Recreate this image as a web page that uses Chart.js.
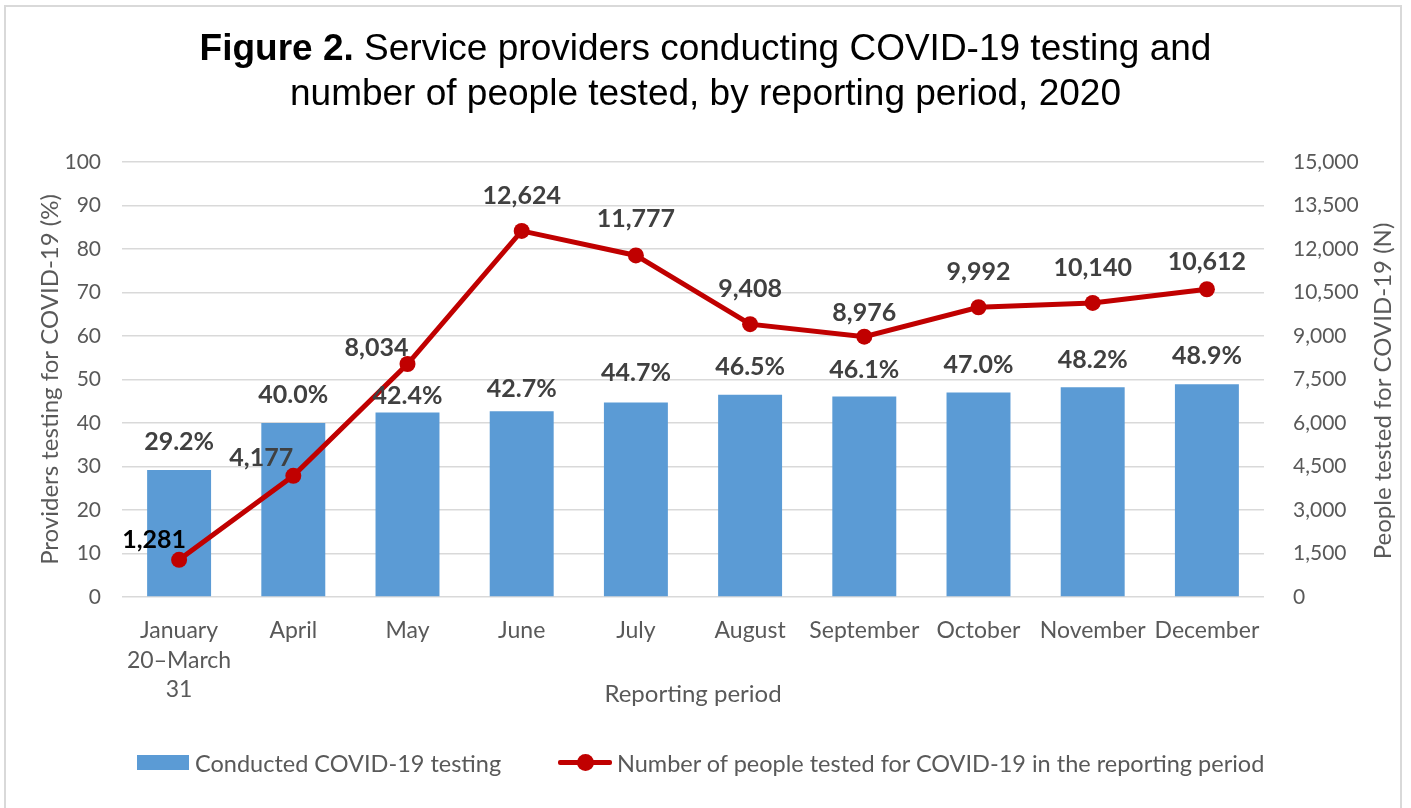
<!DOCTYPE html>
<html>
<head>
<meta charset="utf-8">
<script src="https://cdn.jsdelivr.net/npm/chart.js@4.4.1/dist/chart.umd.min.js"></script>
<style>
  html, body { margin: 0; padding: 0; background: #fff; }
  #wrap { position: relative; width: 1411px; height: 808px; overflow: hidden; }
  #frame { position: absolute; left: 4px; top: 5px; width: 1398px; height: 810px; border: 2px solid #d9d9d9; box-sizing: border-box; }
  #chart { position: absolute; left: 0; top: 0; }
  #title { position: absolute; left: 0; top: 25px; width: 1411px; text-align: center;
    font-family: "Liberation Sans", Arial, sans-serif; font-size: 37px; line-height: 45px; color: #000; }
  #legend { position: absolute; top: 748px; left: 0; width: 1411px; height: 30px;
    font-family: Lato, sans-serif; font-size: 23.5px; color: #595959; }
  .item { position: absolute; top: 0; height: 30px; line-height: 30px; white-space: nowrap; }
  .box { position: absolute; left: 0; top: 7px; width: 52px; height: 15px; background: #5b9bd5; }
  .ln { position: absolute; left: 0; top: 12px; width: 54px; height: 5px; background: #c00000; border-radius: 2px; }
  .dot { position: absolute; left: 19px; top: 6px; width: 17px; height: 17px; border-radius: 50%; background: #c00000; }
</style>
</head>
<body>
<div id="wrap">
  <div id="frame"></div>
  <canvas id="chart" width="1411" height="808"></canvas>
  <div id="title"><b>Figure 2.</b> Service providers conducting COVID-19 testing and<br>number of people tested, by reporting period, 2020</div>
  <div id="legend">
    <div class="item" style="left:137px;"><span class="box"></span><span style="padding-left:58px;">Conducted COVID-19 testing</span></div>
    <div class="item" style="left:558px;"><span class="ln"></span><span class="dot"></span><span style="padding-left:59px;">Number of people tested for COVID-19 in the reporting period</span></div>
  </div>
</div>
<script>
const periods = [["January", "20–March", "31"], "April", "May", "June", "July", "August", "September", "October", "November", "December"];
const pctTesting = [29.2, 40.0, 42.4, 42.7, 44.7, 46.5, 46.1, 47.0, 48.2, 48.9];
const peopleTested = [1281, 4177, 8034, 12624, 11777, 9408, 8976, 9992, 10140, 10612];

// label nudges
const barLabelDy = [-28, -28, -17, -22, -30, -28, -27, -28, -27, -28];
const lineLabelDx = [-25, -32, -31, 0, 0, 0, 0, 0, 0, 0];
const lineLabelDy = [-20, -18, -16, -35, -37, -35, -24, -35, -35, -27];

const fmt = (n) => n.toString().replace(/\B(?=(\d{3})+(?!\d))/g, ",");

// draws the value labels on top of everything
const valueLabels = {
  id: "valueLabels",
  afterDatasetsDraw(chart) {
    const ctx = chart.ctx;
    ctx.save();
    ctx.font = "bold 25px Lato";
    ctx.textAlign = "center";
    ctx.textBaseline = "middle";
    chart.getDatasetMeta(1).data.forEach((bar, i) => {
      ctx.fillStyle = "#404040";
      ctx.fillText(pctTesting[i].toFixed(1) + "%", bar.x, bar.y + barLabelDy[i]);
    });
    chart.getDatasetMeta(0).data.forEach((pt, i) => {
      ctx.fillStyle = i === 0 ? "#000000" : "#404040";
      ctx.fillText(fmt(peopleTested[i]), pt.x + lineLabelDx[i], pt.y + lineLabelDy[i]);
    });
    ctx.restore();
  },
  afterDraw(chart) {
    // right axis title reads bottom-to-top like the left one
    const ctx = chart.ctx;
    ctx.save();
    ctx.translate(1383, 391);
    ctx.rotate(-Math.PI / 2);
    ctx.font = "24px Lato";
    ctx.fillStyle = "#595959";
    ctx.textAlign = "center";
    ctx.textBaseline = "middle";
    ctx.fillText("People tested for COVID-19 (N)", 0, 0);
    ctx.restore();
  }
};

const tickFont = { family: "Lato", size: 21, lineHeight: 1.4 };
const catFont = { family: "Lato", size: 23, lineHeight: 29.5 / 23 };
const titleFont = { family: "Lato", size: 24 };

new Chart(document.getElementById("chart").getContext("2d"), {
  type: "bar",
  data: {
    labels: periods,
    datasets: [
      {
        type: "line",
        label: "Number of people tested for COVID-19 in the reporting period",
        data: peopleTested,
        yAxisID: "yRight",
        borderColor: "#c00000",
        backgroundColor: "#c00000",
        borderWidth: 5,
        pointRadius: 8,
        pointBackgroundColor: "#c00000",
        pointBorderWidth: 0,
        tension: 0,
        order: 0
      },
      {
        label: "Conducted COVID-19 testing",
        data: pctTesting,
        yAxisID: "y",
        backgroundColor: "#5b9bd5",
        categoryPercentage: 1,
        barPercentage: 0.56,
        order: 1
      }
    ]
  },
  options: {
    responsive: false,
    animation: false,
    layout: { padding: { top: 162, left: 0, right: 0, bottom: 96 } },
    plugins: {
      legend: { display: false },
      title: { display: false },
      tooltip: { enabled: false }
    },
    scales: {
      x: {
        grid: { display: false },
        border: { display: false },
        ticks: { color: "#595959", font: catFont, padding: 11, maxRotation: 0, autoSkip: false },
        title: { display: true, text: "Reporting period", color: "#595959", font: titleFont, padding: { top: 4, bottom: 3 } },
        afterFit(scale) { scale.height = 115; }
      },
      y: {
        position: "left",
        min: 0,
        max: 100,
        ticks: { stepSize: 10, color: "#595959", font: tickFont, padding: 21 },
        grid: { color: "#d9d9d9", lineWidth: 1.5, drawTicks: false },
        border: { display: false },
        title: { display: true, text: "Providers testing for COVID-19 (%)", color: "#595959", font: titleFont, padding: { top: 36, bottom: 0 } },
        afterFit(scale) { scale.width = 122; }
      },
      yRight: {
        position: "right",
        min: 0,
        max: 15000,
        ticks: { stepSize: 1500, color: "#595959", font: tickFont, padding: 29, callback: (v) => fmt(v) },
        grid: { display: false, drawTicks: false },
        border: { display: false },
        afterFit(scale) { scale.width = 147; }
      }
    }
  },
  plugins: [valueLabels]
});
</script>
</body>
</html>
